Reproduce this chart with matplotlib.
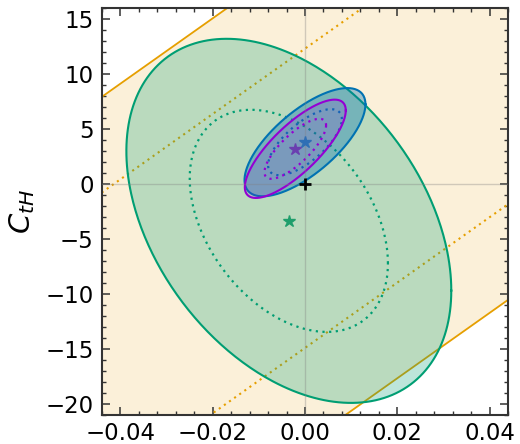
import numpy as np
import matplotlib
matplotlib.use("Agg")
import matplotlib.pyplot as plt

# Two-parameter fits: centre, 1-sigma widths and correlation
fit_names = ["global", "set A", "set B"]
fit_cx = [-0.0035, 0.0000, -0.0021]
fit_cy = [-3.35, 3.80, 3.20]
fit_sx = [0.01416, 0.00527, 0.00440]
fit_sy = [6.657, 1.979, 1.798]
fit_rho = [-0.383, 0.70, 0.78]
fit_colors = ["#009E73", "#0072B2", "#9400D3"]
fit_fill_alpha = [0.26, 0.36, 0.14]
fit_star_colors = ["#1f9e6c", "#2f6fb5", "#6a3fb0"]

# Flat direction constraint: band along a line with Gaussian width
band_slope = 297.0
band_intercept = -1.3
band_sigma = 8.97
band_color = "#E69F00"

# Delta chi^2 levels for 68% and 95% contours (2 dof)
levels = [2.30, 6.18]

xlim = (-0.044, 0.044)
ylim = (-21, 16)
xticks = [-0.04, -0.02, 0.00, 0.02, 0.04]
xticklabels = ["\u22120.04", "\u22120.02", "0.00", "0.02", "0.04"]
yticks = [-20, -15, -10, -5, 0, 5, 10, 15]
yticklabels = ["\u221220", "\u221215", "\u221210", "\u22125", "0", "5", "10", "15"]


def ellipse(cx, cy, sx, sy, rho, dchi2, n=400):
    t = np.linspace(0, 2 * np.pi, n)
    k = np.sqrt(dchi2)
    x = cx + k * sx * np.cos(t)
    y = cy + k * sy * (rho * np.cos(t) + np.sqrt(1 - rho ** 2) * np.sin(t))
    return x, y


fig = plt.figure(figsize=(5.2, 4.44), dpi=100)
ax = fig.add_axes([0.196, 0.0653, 0.781, 0.9167])

# band
xs = np.linspace(xlim[0] - 0.01, xlim[1] + 0.01, 50)
yc = band_intercept + band_slope * xs
w2 = np.sqrt(levels[1]) * band_sigma
w1 = np.sqrt(levels[0]) * band_sigma
ax.fill_between(xs, yc - w2, yc + w2, color=band_color, alpha=0.15, lw=0, zorder=1)
for s in (-1, 1):
    ax.plot(xs, yc + s * w2, color=band_color, lw=1.3, zorder=2)
    ax.plot(xs, yc + s * w1, color=band_color, lw=1.5, ls=(0, (1, 2)), zorder=2)

# ellipses
for i in range(len(fit_names)):
    x2, y2 = ellipse(fit_cx[i], fit_cy[i], fit_sx[i], fit_sy[i], fit_rho[i], levels[1])
    x1, y1 = ellipse(fit_cx[i], fit_cy[i], fit_sx[i], fit_sy[i], fit_rho[i], levels[0])
    z = 3 + i
    ax.fill(x2, y2, color=fit_colors[i], alpha=fit_fill_alpha[i], lw=0, zorder=z)
    ax.plot(x2, y2, color=fit_colors[i], lw=1.5, zorder=z + 0.1)
    ax.plot(x1, y1, color=fit_colors[i], lw=1.6, ls=(0, (1, 2)), zorder=z + 0.1)

ax.axhline(0, color="grey", lw=1.0, alpha=0.35, zorder=8)
ax.axvline(0, color="grey", lw=1.0, alpha=0.35, zorder=8)

for i in range(len(fit_names)):
    ax.plot(fit_cx[i], fit_cy[i], marker="*", ms=9, color=fit_star_colors[i],
            ls="none", zorder=9)
ax.plot(0, 0, marker="+", ms=9, mew=2, color="black", zorder=10)

ax.set_xlim(*xlim)
ax.set_ylim(*ylim)
ax.set_xticks(xticks)
ax.set_xticklabels(xticklabels)
ax.set_yticks(yticks)
ax.set_yticklabels(yticklabels)
ax.set_xticks(np.arange(-0.044, 0.0441, 0.004), minor=True)
ax.set_yticks(np.arange(-21, 17, 1), minor=True)
ax.tick_params(which="both", direction="in", top=True, right=True, colors="#333333",
               labelcolor="black")
ax.tick_params(which="major", length=6, width=1.1, labelsize=16.5)
ax.tick_params(axis="y", which="major", pad=6)
ax.tick_params(axis="x", which="major", pad=5)
ax.tick_params(which="minor", length=3, width=1.0)
for sp in ax.spines.values():
    sp.set_color("#333333")
    sp.set_linewidth(1.5)

ax.set_ylabel(r"$C_{tH}$", fontsize=21, labelpad=6)

fig.savefig("out.png", dpi=100)
